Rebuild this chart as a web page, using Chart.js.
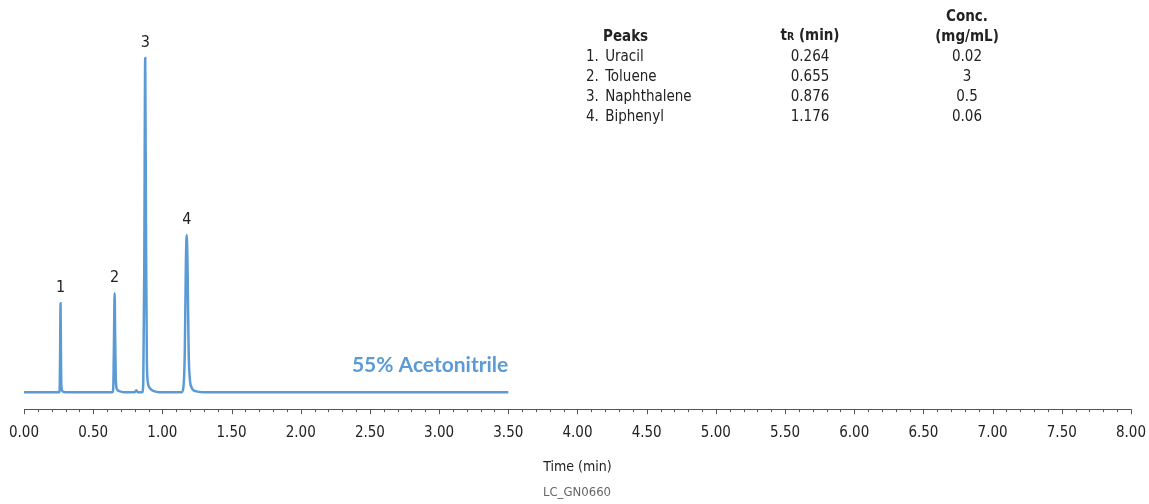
<!DOCTYPE html>
<html>
<head>
<meta charset="utf-8">
<script src="https://cdn.jsdelivr.net/npm/chart.js@4.4.1/dist/chart.umd.min.js"></script>
<style>
  body { margin: 0; background: #fff; }
  #wrap { position: relative; width: 1149px; height: 504px; }
  #peakTable {
    position: absolute; left: 586px; top: 6px;
    border-collapse: collapse; table-layout: fixed;
    font-family: "Liberation Sans Narrow", "DejaVu Sans Condensed", sans-serif;
    font-size: 15px; color: #222; line-height: 20px;
  }
  #peakTable td, #peakTable th { padding: 0; }
  #peakTable th { font-weight: bold; vertical-align: bottom; }
  .small { font-size: 70%; }
  #code {
    position: absolute; left: 0; width: 1154px; top: 484px; text-align: center;
    font-family: "Liberation Sans Narrow", "DejaVu Sans Condensed", sans-serif;
    font-size: 13px; color: #666;
  }
</style>
</head>
<body>
<div id="wrap">
  <canvas id="chromChart"></canvas>
  <table id="peakTable">
    <colgroup><col style="width:174px"><col style="width:100px"><col style="width:214px"></colgroup>
    <thead>
      <tr>
        <th style="text-align:left;padding-left:17px">Peaks</th>
        <th style="text-align:center">t<span class="small">R</span> (min)</th>
        <th style="text-align:center">Conc.<br>(mg/mL)</th>
      </tr>
    </thead>
    <tbody id="peakRows"></tbody>
  </table>
  <div id="code">LC_GN0660</div>
</div>

<script>
// peaks
const peakNames = ["Uracil", "Toluene", "Naphthalene", "Biphenyl"];
const peakTimes = [0.264, 0.655, 0.876, 1.176];
const peakTimeLabels = ["0.264", "0.655", "0.876", "1.176"];
const peakConc = ["0.02", "3", "0.5", "0.06"];
const peakHeights = [89, 99, 334, 157];

// chromatogram trace (min, signal)
const traceTime = [
  0.00, 0.20, 0.255, 0.258, 0.261, 0.264, 0.267, 0.270, 0.278, 0.30,
  0.50, 0.640, 0.646, 0.651, 0.655, 0.659, 0.664, 0.672, 0.69, 0.72,
  0.80, 0.812, 0.822, 0.855, 0.862, 0.869, 0.876, 0.882, 0.888, 0.895,
  0.91, 0.94, 0.98, 1.14, 1.152, 1.162, 1.170, 1.176, 1.182, 1.190,
  1.198, 1.21, 1.24, 1.29, 2.00, 3.50
];
const traceSignal = [
  0, 0, 0, 3, 40, 89, 40, 6, 1, 0,
  0, 0, 8, 60, 99, 55, 12, 3, 1, 0,
  0, 2, 0, 0, 10, 120, 334, 150, 30, 10,
  4, 1, 0, 0, 5, 40, 130, 157, 125, 40,
  14, 5, 1, 0, 0, 0
];

const xMin = 0, xMax = 8, xMajorStep = 0.5, xMinorStep = 0.1;
const mobilePhase = "55% Acetonitrile";

const lineBlue = "#5b9bd5";
const axisGrey = "#555";
const condensed = "'Liberation Sans Narrow', 'DejaVu Sans Condensed', sans-serif";

// table rows
const tbody = document.getElementById("peakRows");
peakNames.forEach((name, i) => {
  const tr = document.createElement("tr");
  tr.innerHTML = `
    <td>${i + 1}.&nbsp;<span style="margin-left:2px">${name}</span></td>
    <td style="text-align:center">${peakTimeLabels[i]}</td>
    <td style="text-align:center">${peakConc[i]}</td>
  `;
  tbody.appendChild(tr);
});

// peak numbers, tick marks, phase label
const extrasPlugin = {
  id: "extras",
  afterDraw(chart) {
    const ctx = chart.ctx;
    const xs = chart.scales.x;
    const ys = chart.scales.y;
    ctx.save();

    // major (5px) and minor (3px) ticks
    ctx.strokeStyle = axisGrey;
    ctx.lineWidth = 1;
    const bottom = chart.chartArea.bottom;
    const n = Math.round((xMax - xMin) / xMinorStep);
    for (let i = 0; i <= n; i++) {
      const len = i % 5 === 0 ? 5 : 3;
      const px = Math.round(xs.getPixelForValue(xMin + i * xMinorStep)) + 0.5;
      ctx.beginPath();
      ctx.moveTo(px, bottom);
      ctx.lineTo(px, bottom + len);
      ctx.stroke();
    }

    // peak numbers
    ctx.fillStyle = "#222";
    ctx.font = "16px " + condensed;
    ctx.textAlign = "center";
    ctx.textBaseline = "bottom";
    peakTimes.forEach((t, i) => {
      ctx.fillText(String(i + 1), xs.getPixelForValue(t), ys.getPixelForValue(peakHeights[i]) - 7);
    });

    // mobile phase label
    ctx.fillStyle = lineBlue;
    ctx.font = "bold 21px Lato, sans-serif";
    ctx.textAlign = "right";
    ctx.textBaseline = "middle";
    const lastT = traceTime[traceTime.length - 1];
    ctx.fillText(mobilePhase, xs.getPixelForValue(lastT), ys.getPixelForValue(27));

    ctx.restore();
  }
};

const ctx = document.getElementById("chromChart").getContext("2d");
new Chart(ctx, {
  type: "line",
  data: {
    datasets: [{
      data: traceTime.map((t, i) => ({ x: t, y: traceSignal[i] })),
      borderColor: lineBlue,
      borderWidth: 2.5,
      pointRadius: 0,
      cubicInterpolationMode: "monotone",
      fill: false
    }]
  },
  options: {
    responsive: true,
    maintainAspectRatio: false,
    animation: false,
    layout: { padding: { left: 24, right: 15, top: 40, bottom: 28 } },
    plugins: {
      legend: { display: false },
      tooltip: { enabled: false }
    },
    scales: {
      x: {
        type: "linear",
        min: xMin,
        max: xMax,
        grid: {
          display: true,
          drawOnChartArea: false,
          drawTicks: true,
          tickLength: 12,
          tickColor: "rgba(0,0,0,0)"
        },
        border: { display: true, color: axisGrey, width: 1 },
        ticks: {
          stepSize: xMajorStep,
          autoSkip: false,
          maxRotation: 0,
          padding: 3,
          color: "#222",
          font: { family: condensed, size: 15 },
          callback: v => v.toFixed(2)
        },
        title: {
          display: true,
          text: "Time (min)",
          color: "#222",
          font: { family: condensed, size: 14 },
          padding: { top: 14, bottom: 0 }
        }
      },
      y: {
        display: false,
        min: -17,
        max: 352
      }
    }
  },
  plugins: [extrasPlugin]
});
</script>
</body>
</html>
